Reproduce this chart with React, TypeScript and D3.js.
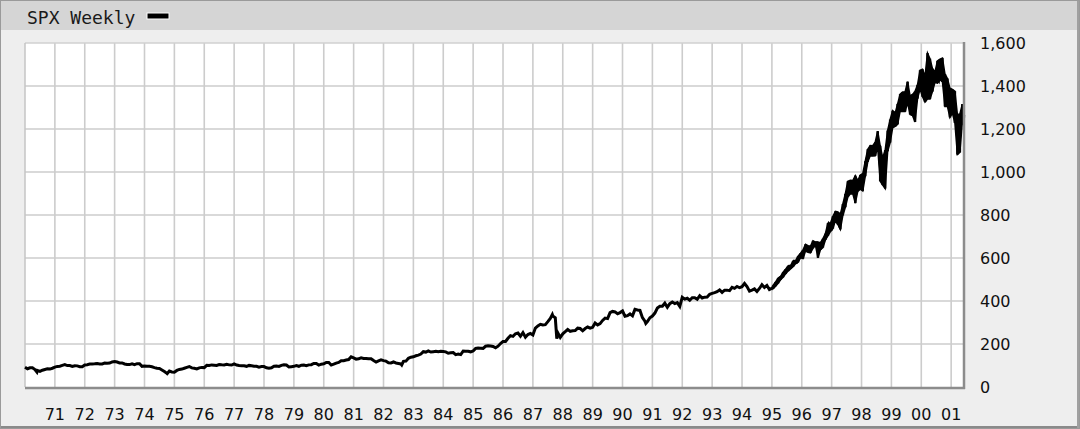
import React from "react";
import * as d3 from "d3";

// ---- data ----
const title = "SPX Weekly";
const startYear = 1970;
const openValue = 92.06; // value at the very start of 1970
// monthly closes, Jan 1970 .. May 2001
const monthlyClose: number[] = [
  // 1970
  85.0, 89.5, 89.6, 81.5, 76.6, 72.7, 78.0, 81.5, 84.3, 83.3, 87.2, 92.2,
  // 1971
  95.9, 96.8, 100.3, 103.9, 99.6, 99.7, 95.6, 99.0, 98.3, 94.2, 94.0, 102.1,
  // 1972
  103.9, 106.6, 107.2, 107.7, 109.5, 107.1, 107.4, 111.1, 110.6, 111.6, 116.7, 118.1,
  // 1973
  116.0, 111.7, 112.0, 107.0, 105.0, 104.3, 108.2, 104.3, 108.4, 108.3, 96.0, 97.6,
  // 1974
  96.6, 96.2, 94.0, 90.3, 87.3, 86.0, 79.3, 72.2, 63.5, 73.9, 70.0, 68.6,
  // 1975
  77.0, 81.6, 83.4, 87.3, 91.2, 95.2, 88.8, 86.9, 83.9, 89.0, 91.2, 90.2,
  // 1976
  100.9, 99.7, 102.8, 101.6, 100.2, 104.3, 103.4, 102.9, 105.2, 102.9, 102.1, 107.5,
  // 1977
  102.0, 99.8, 98.4, 98.4, 96.1, 100.5, 98.9, 96.8, 96.5, 92.3, 94.8, 95.1,
  // 1978
  89.3, 87.0, 89.2, 96.8, 97.3, 95.5, 100.7, 103.3, 102.5, 93.2, 94.7, 96.1,
  // 1979
  99.9, 96.3, 101.6, 101.8, 99.1, 102.9, 103.8, 109.3, 109.3, 101.8, 106.2, 107.9,
  // 1980
  114.2, 113.7, 102.1, 106.3, 111.2, 114.2, 121.7, 122.4, 125.5, 127.5, 140.5, 135.8,
  // 1981
  129.6, 131.3, 136.0, 132.8, 132.6, 131.2, 130.9, 122.8, 116.2, 121.9, 126.4, 122.6,
  // 1982
  120.4, 113.1, 112.0, 116.4, 111.9, 109.6, 107.1, 119.5, 120.4, 133.7, 138.5, 140.6,
  // 1983
  145.3, 148.1, 153.0, 164.4, 162.4, 168.1, 162.6, 164.4, 166.1, 163.6, 166.4, 164.9,
  // 1984
  163.4, 157.1, 159.2, 160.1, 150.6, 153.2, 150.7, 166.7, 166.1, 166.1, 163.6, 167.2,
  // 1985
  179.6, 181.2, 180.7, 179.8, 189.6, 191.9, 190.9, 188.6, 182.1, 189.8, 202.2, 211.3,
  // 1986
  211.8, 226.9, 238.9, 235.5, 247.4, 250.8, 236.1, 252.9, 231.3, 244.0, 249.2, 242.2,
  // 1987
  274.1, 284.2, 291.7, 288.4, 290.1, 304.0, 318.7, 329.8, 321.8, 251.8, 230.3, 247.1,
  // 1988
  257.1, 267.8, 258.9, 261.3, 262.2, 273.5, 272.0, 261.5, 271.9, 279.0, 273.7, 277.7,
  // 1989
  297.5, 288.9, 294.9, 309.6, 320.5, 318.0, 346.1, 351.5, 349.2, 340.4, 346.0, 353.4,
  // 1990
  329.1, 331.9, 339.9, 330.8, 361.2, 358.0, 356.2, 322.6, 306.1, 304.0, 322.2, 330.2,
  // 1991
  343.9, 367.1, 375.2, 375.4, 389.8, 371.2, 387.8, 395.4, 387.9, 392.5, 375.2, 417.1,
  // 1992
  408.8, 412.7, 403.7, 415.0, 415.4, 408.1, 424.2, 414.0, 417.8, 418.7, 431.4, 435.7,
  // 1993
  438.8, 443.4, 451.7, 440.2, 450.2, 450.5, 448.1, 463.6, 458.9, 467.8, 461.8, 466.5,
  // 1994
  481.6, 467.1, 445.8, 450.9, 456.5, 444.3, 458.3, 475.5, 462.7, 472.4, 453.7, 459.3,
  // 1995
  470.4, 487.4, 500.7, 514.7, 533.4, 544.8, 562.1, 561.9, 584.4, 581.5, 605.4, 615.9,
  // 1996
  636.0, 640.4, 645.5, 654.2, 669.1, 670.6, 640.0, 652.0, 687.3, 705.3, 757.0, 740.7,
  // 1997
  786.2, 790.8, 757.1, 801.3, 848.3, 885.1, 954.3, 899.5, 947.3, 914.6, 955.4, 970.4,
  // 1998
  980.3, 1049.3, 1101.8, 1111.8, 1090.8, 1133.8, 1120.7, 957.3, 1017.0, 1098.7, 1163.6, 1229.2,
  // 1999
  1279.6, 1238.3, 1286.4, 1335.2, 1301.8, 1372.7, 1328.7, 1320.4, 1282.7, 1362.9, 1388.9, 1469.3,
  // 2000
  1394.5, 1366.4, 1498.6, 1452.4, 1420.6, 1454.6, 1430.8, 1517.7, 1436.5, 1429.4, 1315.0, 1320.3,
  // 2001
  1366.0, 1239.9, 1160.3, 1249.5, 1255.8,
];
const lastValue = 1265; // value at the right edge (early June 2001)
const lastDate = 2001.42;

// notable intramonth extremes [decimal year, value]
const extremes: [number, number][] = [
  [1970.4, 69.3],
  [1974.76, 62.3],
  [1982.61, 102.4],
  [1987.65, 336.8],
  [1987.8, 224.8],
  [1990.78, 295.5],
];

// monthly high / low ranges, Jan 1995 .. Jun 2001
const bandStartYear = 1995;
const monthlyHigh: number[] = [
  473, 489, 507, 515, 534, 548, 563, 565, 586, 588, 608, 622,
  638, 664, 657, 656, 680, 674, 674, 671, 690, 714, 762, 762,
  794, 817, 814, 804, 851, 899, 957, 961, 960, 983, 960, 986,
  992, 1050, 1106, 1123, 1122, 1139, 1190, 1122, 1066, 1102, 1193, 1244,
  1285, 1274, 1317, 1362, 1372, 1373, 1420, 1354, 1361, 1375, 1406, 1473,
  1478, 1445, 1553, 1527, 1481, 1466, 1517, 1525, 1530, 1456, 1435, 1390,
  1384, 1376, 1268, 1270, 1316, 1287,
];
const monthlyLow: number[] = [
  457, 469, 482, 499, 510, 526, 539, 549, 559, 573, 580, 601,
  597, 632, 627, 624, 645, 659, 601, 638, 649, 684, 703, 723,
  737, 773, 756, 733, 798, 836, 883, 899, 898, 855, 910, 920,
  912, 980, 1047, 1076, 1074, 1075, 1114, 957, 939, 923, 1096, 1137,
  1205, 1212, 1222, 1282, 1281, 1281, 1322, 1268, 1262, 1233, 1341, 1386,
  1350, 1325, 1339, 1339, 1374, 1417, 1413, 1429, 1419, 1305, 1305, 1254,
  1274, 1228, 1081, 1091, 1233, 1222,
];

const yearTicks: number[] = d3.range(1971, 2002);
const valueTicks: number[] = [0, 200, 400, 600, 800, 1000, 1200, 1400, 1600];

// ---- layout ----
const W = 1080;
const H = 429;
const plot = { left: 25, right: 964, top: 43, bottom: 387 };

export default function App() {
  const x = d3.scaleLinear().domain([1970, 2001.43]).range([plot.left, plot.right]);
  const y = d3.scaleLinear().domain([0, 1600]).range([plot.bottom, plot.top]);

  const pts: [number, number][] = [[startYear, openValue]];
  monthlyClose.forEach((v, i) => pts.push([startYear + (i + 1) / 12, v]));
  pts.push([lastDate, lastValue]);
  extremes.forEach((p) => pts.push(p));
  pts.sort((a, b) => a[0] - b[0]);
  const line = d3
    .line<[number, number]>()
    .x((d) => x(d[0]))
    .y((d) => y(d[1]));

  const bars = monthlyHigh.map((h, i) => {
    const t = Math.min(bandStartYear + (i + 0.5) / 12, lastDate);
    return { t, h, l: monthlyLow[i] };
  });
  const band = d3
    .area<{ t: number; h: number; l: number }>()
    .x((d) => x(d.t))
    .y0((d) => y(d.l))
    .y1((d) => y(d.h));

  const fmt = d3.format(",");

  return (
    <svg
      width={W}
      height={H}
      style={{ position: "absolute", left: 0, top: 0, display: "block" }}
    >
      <rect x={0} y={0} width={W} height={H} fill="#eeeeee" />
      <rect x={0} y={0} width={W} height={30} fill="#d5d5d5" />
      <rect x={0.5} y={0.5} width={W - 1} height={H - 1} fill="none" stroke="#9a9a9a" />
      <line x1={1} x2={W - 1} y1={H - 2} y2={H - 2} stroke="#8a8a8a" strokeWidth={2} />
      <line x1={W - 2} x2={W - 2} y1={1} y2={H - 1} stroke="#a0a0a0" strokeWidth={2} />
      <text
        x={27}
        y={24}
        fontFamily="'DejaVu Sans Mono', monospace"
        fontSize={18}
        fill="#1a1a1a"
      >
        {title}
      </text>
      <rect x={147} y={13} width={22} height={6} fill="#000" stroke="#ffffff" strokeWidth={1} />

      {/* plot area */}
      <rect
        x={plot.left}
        y={plot.top}
        width={plot.right - plot.left}
        height={plot.bottom - plot.top}
        fill="#ffffff"
      />
      {yearTicks.map((yr) => (
        <line
          key={"v" + yr}
          x1={x(yr)}
          x2={x(yr)}
          y1={plot.top}
          y2={plot.bottom}
          stroke="#cccccc"
          strokeWidth={1.6}
        />
      ))}
      {valueTicks.slice(1, -1).map((v) => (
        <line
          key={"h" + v}
          x1={plot.left}
          x2={plot.right}
          y1={y(v)}
          y2={y(v)}
          stroke="#cccccc"
          strokeWidth={1.6}
        />
      ))}
      {/* borders */}
      <line x1={plot.left} x2={plot.right} y1={plot.top} y2={plot.top} stroke="#d0d0d0" strokeWidth={1.5} />
      <line x1={plot.left} x2={plot.left} y1={plot.top} y2={plot.bottom} stroke="#c4c4c4" strokeWidth={1.5} />

      {/* data */}
      <path d={band(bars) || ""} fill="#000" stroke="#000" strokeWidth={1.5} />
      {bars.map((b, i) => (
        <line
          key={"b" + i}
          x1={x(b.t)}
          x2={x(b.t)}
          y1={y(b.l)}
          y2={y(b.h)}
          stroke="#000"
          strokeWidth={2.5}
        />
      ))}
      <path d={line(pts) || ""} fill="none" stroke="#000" strokeWidth={3} strokeLinejoin="miter" />

      <line x1={plot.left} x2={plot.right + 1} y1={plot.bottom + 1} y2={plot.bottom + 1} stroke="#8c8c8c" strokeWidth={2.5} />
      <line x1={plot.right} x2={plot.right} y1={plot.top - 1} y2={plot.bottom + 2} stroke="#8c8c8c" strokeWidth={2.5} />

      {/* axes labels */}
      {yearTicks.map((yr) => (
        <text
          key={"t" + yr}
          x={x(yr)}
          y={420}
          textAnchor="middle"
          fontFamily="'DejaVu Sans', Verdana, sans-serif"
          fontSize={16}
          fill="#111"
        >
          {String(yr % 100).padStart(2, "0")}
        </text>
      ))}
      {valueTicks.map((v) => (
        <text
          key={"y" + v}
          x={980}
          y={y(v) + 6}
          fontFamily="'DejaVu Sans', Verdana, sans-serif"
          fontSize={16}
          fill="#111"
        >
          {fmt(v)}
        </text>
      ))}
    </svg>
  );
}
